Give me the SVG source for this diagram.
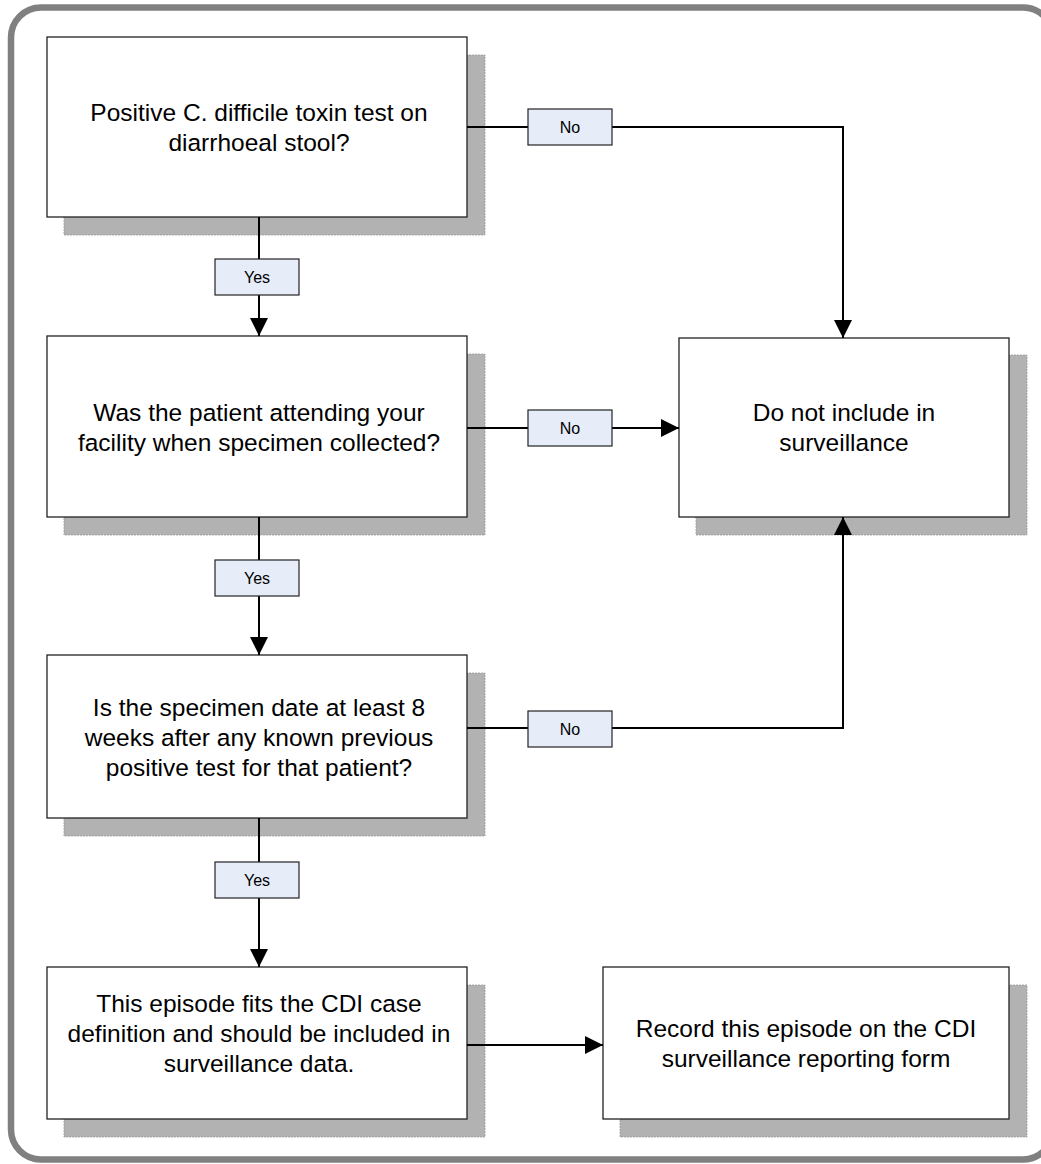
<svg xmlns="http://www.w3.org/2000/svg" width="1041" height="1164" viewBox="0 0 1041 1164">
<defs>
<style>
.shadow{fill:#b2b2b2;stroke:#9a9a9a;stroke-width:0.8;stroke-dasharray:2 1}
.box{fill:#ffffff;stroke:#222;stroke-width:1.3}
.txt{font-family:"Liberation Sans",Arial,sans-serif;font-size:24.5px;fill:#000;text-anchor:middle}
.lbl{fill:#e6edf8;stroke:#222;stroke-width:1.2}
.ltxt{font-family:"Liberation Sans",Arial,sans-serif;font-size:16px;fill:#000;text-anchor:middle}
.con{fill:none;stroke:#000;stroke-width:2}
</style>
<marker id="arr" viewBox="0 0 18 18" markerWidth="18" markerHeight="18" refX="18" refY="9" orient="auto" markerUnits="userSpaceOnUse">
<path d="M0,0 L18,9 L0,18 Z" fill="#000"/>
</marker>
</defs>
<rect x="0" y="0" width="1041" height="1164" fill="#ffffff"/>
<rect x="11" y="7.5" width="1042" height="1152" rx="30" ry="30" fill="none" stroke="#808080" stroke-width="6.5"/>

<g id="node-positive">
<rect class="shadow" x="64" y="55" width="421" height="180"/>
<rect class="box" x="47" y="37" width="420" height="180"/>
<text class="txt" x="259" y="121">Positive C. difficile toxin test on</text>
<text class="txt" x="259" y="151">diarrhoeal stool?</text>
</g>

<g id="node-attending">
<rect class="shadow" x="64" y="354" width="421" height="181"/>
<rect class="box" x="47" y="336" width="420" height="181"/>
<text class="txt" x="259" y="421">Was the patient attending your</text>
<text class="txt" x="259" y="451">facility when specimen collected?</text>
</g>

<g id="node-date">
<rect class="shadow" x="64" y="673" width="421" height="163"/>
<rect class="box" x="47" y="655" width="420" height="163"/>
<text class="txt" x="259" y="716">Is the specimen date at least 8</text>
<text class="txt" x="259" y="746">weeks after any known previous</text>
<text class="txt" x="259" y="776">positive test for that patient?</text>
</g>

<g id="node-fits">
<rect class="shadow" x="64" y="985" width="421" height="152"/>
<rect class="box" x="47" y="967" width="420" height="152"/>
<text class="txt" x="259" y="1012">This episode fits the CDI case</text>
<text class="txt" x="259" y="1042">definition and should be included in</text>
<text class="txt" x="259" y="1072">surveillance data.</text>
</g>

<g id="node-exclude">
<rect class="shadow" x="696" y="355" width="331" height="180"/>
<rect class="box" x="679" y="338" width="330" height="179"/>
<text class="txt" x="844" y="421">Do not include in</text>
<text class="txt" x="844" y="451">surveillance</text>
</g>

<g id="node-record">
<rect class="shadow" x="620" y="985" width="407" height="152"/>
<rect class="box" x="603" y="967" width="406" height="152"/>
<text class="txt" x="806" y="1037">Record this episode on the CDI</text>
<text class="txt" x="806" y="1067">surveillance reporting form</text>
</g>

<g id="connectors">
<path class="con" d="M467,127 H843 V338" marker-end="url(#arr)"/>
<path class="con" d="M259,217 V336" marker-end="url(#arr)"/>
<path class="con" d="M467,428 H679" marker-end="url(#arr)"/>
<path class="con" d="M259,517 V655" marker-end="url(#arr)"/>
<path class="con" d="M467,728 H843 V517" marker-end="url(#arr)"/>
<path class="con" d="M259,818 V967" marker-end="url(#arr)"/>
<path class="con" d="M467,1045 H603" marker-end="url(#arr)"/>

<rect class="lbl" x="528" y="109" width="84" height="36"/>
<text class="ltxt" x="570" y="133">No</text>
<rect class="lbl" x="215" y="259" width="84" height="36"/>
<text class="ltxt" x="257" y="283">Yes</text>
<rect class="lbl" x="528" y="410" width="84" height="36"/>
<text class="ltxt" x="570" y="434">No</text>
<rect class="lbl" x="215" y="560" width="84" height="36"/>
<text class="ltxt" x="257" y="584">Yes</text>
<rect class="lbl" x="528" y="711" width="84" height="36"/>
<text class="ltxt" x="570" y="735">No</text>
<rect class="lbl" x="215" y="862" width="84" height="36"/>
<text class="ltxt" x="257" y="886">Yes</text>
</g>
</svg>
